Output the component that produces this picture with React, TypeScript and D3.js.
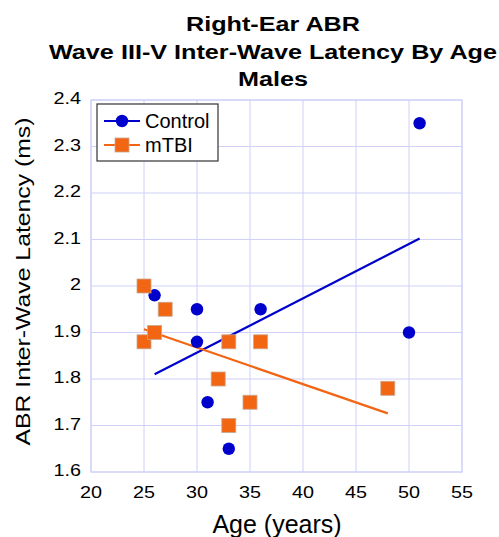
import React from "react";
import * as d3 from "d3";

const controlAge = [26, 30, 30, 31, 33, 36, 50, 51];
const controlLatency = [1.98, 1.95, 1.88, 1.75, 1.65, 1.95, 1.9, 2.35];
const mtbiAge = [25, 25, 26, 27, 32, 33, 33, 35, 36, 48];
const mtbiLatency = [2.0, 1.88, 1.9, 1.95, 1.8, 1.88, 1.7, 1.75, 1.88, 1.78];

// fit line end points
const controlFitAge = [26, 51];
const controlFitLatency = [1.81, 2.102];
const mtbiFitAge = [25, 48];
const mtbiFitLatency = [1.907, 1.726];

const xTicks = [20, 25, 30, 35, 40, 45, 50, 55];
const yTicks = [1.6, 1.7, 1.8, 1.9, 2, 2.1, 2.2, 2.3, 2.4];
const titleLines = ["Right-Ear ABR", "Wave III-V Inter-Wave Latency By Age", "Males"];

const W = 499;
const H = 537;
const m = { left: 91, right: 462, top: 100, bottom: 472 };
const font = "'Liberation Sans', Arial, sans-serif";
const blue = "#0000cc";
const orange = "#f26513";
const grid = "#d0d0f8";
const stretch = 1.2; // text in the original is a bit wider than Liberation

export default function App() {
  const x = d3.scaleLinear().domain([20, 55]).range([m.left, m.right]);
  const y = d3.scaleLinear().domain([1.6, 2.4]).range([m.bottom, m.top]);
  const line = d3
    .line<[number, number]>()
    .x((d) => x(d[0]))
    .y((d) => y(d[1]));
  const controlFit = controlFitAge.map((a, i) => [a, controlFitLatency[i]] as [number, number]);
  const mtbiFit = mtbiFitAge.map((a, i) => [a, mtbiFitLatency[i]] as [number, number]);
  const sq = 14;

  return (
    <svg
      width={W}
      height={H}
      style={{ position: "absolute", left: 0, top: 0, background: "#fff" }}
      fontFamily={font}
    >
      {titleLines.map((t, i) => (
        <text
          key={t}
          transform={`translate(273,${31 + i * 27.5}) scale(${stretch},1)`}
          textAnchor="middle"
          fontSize={21}
          fontWeight="bold"
        >
          {t}
        </text>
      ))}

      {xTicks.map((t) => (
        <line key={"gx" + t} x1={x(t)} x2={x(t)} y1={m.top} y2={m.bottom} stroke={grid} strokeWidth={1} />
      ))}
      {yTicks.map((t) => (
        <line key={"gy" + t} x1={m.left} x2={m.right} y1={y(t)} y2={y(t)} stroke={grid} strokeWidth={1} />
      ))}
      <rect
        x={m.left}
        y={m.top}
        width={m.right - m.left}
        height={m.bottom - m.top}
        fill="none"
        stroke={grid}
        strokeWidth={1.2}
      />

      {xTicks.map((t) => (
        <text
          key={"tx" + t}
          transform={`translate(${x(t)},498) scale(${stretch},1)`}
          textAnchor="middle"
          fontSize={16.5}
        >
          {t}
        </text>
      ))}
      {yTicks.map((t) => (
        <text
          key={"ty" + t}
          transform={`translate(81,${y(t) + 4}) scale(${stretch},1)`}
          textAnchor="end"
          fontSize={16.5}
        >
          {d3.format("~g")(t)}
        </text>
      ))}

      <text x={277} y={533} textAnchor="middle" fontSize={25}>
        Age (years)
      </text>
      <text
        transform={`translate(30,281.5) rotate(-90) scale(1.18,1)`}
        textAnchor="middle"
        fontSize={21}
      >
        ABR Inter-Wave Latency (ms)
      </text>

      <path d={line(controlFit) ?? ""} stroke={blue} strokeWidth={2.2} fill="none" />
      <path d={line(mtbiFit) ?? ""} stroke={orange} strokeWidth={2.2} fill="none" />

      {controlAge.map((a, i) => (
        <circle key={"c" + i} cx={x(a)} cy={y(controlLatency[i])} r={6.2} fill={blue} />
      ))}
      {mtbiAge.map((a, i) => (
        <rect
          key={"m" + i}
          x={x(a) - sq / 2}
          y={y(mtbiLatency[i]) - sq / 2}
          width={sq}
          height={sq}
          fill={orange}
          stroke="#c8a890"
          strokeWidth={0.8}
        />
      ))}

      <g>
        <rect x={97} y={104} width={121} height={57} fill="#fff" stroke="#333" strokeWidth={1.2} />
        <line x1={104} x2={140} y1={121} y2={121} stroke={blue} strokeWidth={2} />
        <circle cx={122} cy={121} r={6.2} fill={blue} />
        <text x={145} y={128} fontSize={20}>
          Control
        </text>
        <line x1={104} x2={140} y1={145} y2={145} stroke={orange} strokeWidth={2} />
        <rect x={122 - sq / 2} y={145 - sq / 2} width={sq} height={sq} fill={orange} stroke="#c8a890" strokeWidth={0.8} />
        <text x={145} y={152} fontSize={20}>
          mTBI
        </text>
      </g>
    </svg>
  );
}
